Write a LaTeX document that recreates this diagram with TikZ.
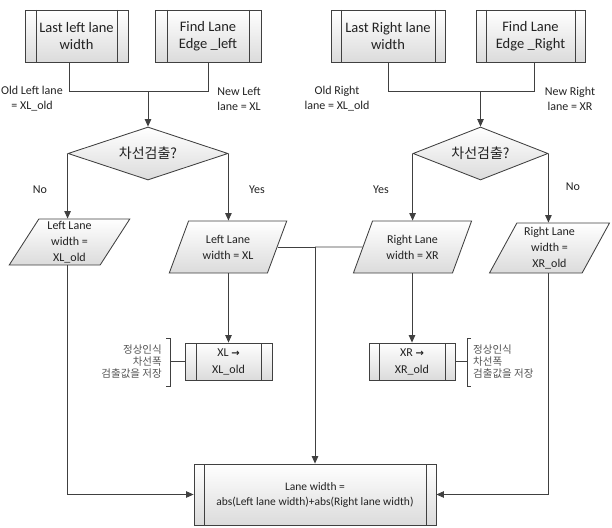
\documentclass[tikz,border=0pt]{standalone}
\usepackage{fontspec}
\setmainfont{Carlito}
\newfontfamily\kr{Noto Sans CJK KR}
\newfontfamily\dv{DejaVu Sans}
\usetikzlibrary{shapes.geometric,arrows.meta}
\definecolor{linec}{HTML}{404040}
\definecolor{txtc}{HTML}{222222}
\definecolor{annc}{HTML}{555555}
\tikzset{
  ln/.style={draw=linec, line width=0.85pt},
  arr/.style={ln, -{Triangle[length=7.5pt,width=6.5pt]}},
  procbox/.style={draw=linec, line width=0.85pt, rectangle, top color=white, bottom color=black!14,
    inner sep=0pt, align=center, text=txtc,
    path picture={
      \draw[linec, line width=0.85pt] ([xshift=#1]path picture bounding box.north west) -- ([xshift=#1]path picture bounding box.south west);
      \draw[linec, line width=0.85pt] ([xshift=-#1]path picture bounding box.north east) -- ([xshift=-#1]path picture bounding box.south east);}},
  para/.style={draw=linec, line width=0.85pt, trapezium, trapezium left angle=63, trapezium right angle=117,
    trapezium stretches=true, top color=white, bottom color=black!14, inner sep=0pt, align=center, text=txtc,
    font=\fontsize{12}{16}\selectfont},
  dec/.style={draw=linec, line width=0.85pt, diamond, aspect=3, inner sep=0pt, top color=white, bottom color=black!14,
    text=txtc, font=\kr\fontsize{14}{16}\selectfont},
  lbl/.style={align=center, text=txtc, inner sep=0pt, font=\fontsize{12}{15}\selectfont},
  ann/.style={inner sep=0pt, text=annc, font=\kr\fontsize{10.5}{12}\selectfont},
  topf/.style={font=\fontsize{14.5}{17.5}\selectfont}
}
\begin{document}
\begin{tikzpicture}[x=1pt,y=-1pt]
\useasboundingbox (0,0) rectangle (612,527);
% top boxes
\node[procbox=11pt, topf, minimum width=103pt, minimum height=52pt] (b1) at (76.5,36) {Last left lane\\width};
\node[procbox=12pt, topf, minimum width=106pt, minimum height=52pt] (b2) at (208,36) {Find Lane\\Edge \_left};
\node[procbox=10pt, topf, minimum width=114pt, minimum height=52pt] (b3) at (388,36) {Last Right lane\\width};
\node[procbox=10pt, topf, minimum width=109pt, minimum height=52pt] (b4) at (530.5,36) {Find Lane\\Edge \_Right};
% diamonds
\node[dec, minimum width=160pt, minimum height=53pt] (d1) at (148,153.5) {차선검출?};
\node[dec, minimum width=135pt, minimum height=53pt] (d2) at (480.5,153.5) {차선검출?};
% joins
\coordinate (j1) at (148,91);
\coordinate (j2) at (480.5,91);
\draw[ln] ([xshift=-7pt]b1.south) |- (j1);
\draw[ln] (b2.south) |- (j1);
\draw[arr] (j1) -- (d1.north);
\draw[ln] (b3.south) |- (j2);
\draw[ln] ([xshift=3.5pt]b4.south) |- (j2);
\draw[arr] (j2) -- (d2.north);
% labels
\node[lbl] at (32,99) {Old Left lane\\= XL\_old};
\node[lbl] at (239,99) {New Left\\lane = XL};
\node[lbl] at (337,99) {Old Right\\lane = XL\_old};
\node[lbl] at (570,99) {New Right\\lane = XR};
\node[lbl] at (40,190) {No};
\node[lbl] at (257,190) {Yes};
\node[lbl] at (381,190) {Yes};
\node[lbl] at (573,187) {No};
% parallelograms
\node[para, minimum width=121pt, minimum height=46pt] (p1) at (69.5,242) {Left Lane\\width =\\XL\_old};
\node[para, minimum width=118pt, minimum height=52pt] (p2) at (228,247) {Left Lane\\width = XL};
\node[para, minimum width=119pt, minimum height=52pt] (p3) at (412.5,247) {Right Lane\\width = XR};
\node[para, minimum width=121pt, minimum height=50pt] (p4) at (549.5,248) {Right Lane\\width =\\XR\_old};
\draw[arr] (d1.west) -- (d1.west |- p1.north);
\draw[arr] (d1.east) -- (d1.east |- p2.north);
\draw[arr] (d2.west) -- (d2.west |- p3.north);
\draw[arr] (d2.east) -- (d2.east |- p4.north);
% store boxes
\node[procbox=11pt, minimum width=87pt, minimum height=37pt, font=\fontsize{12}{17}\selectfont] (x1) at (228.5,361.5) {XL {\dv\bfseries\fontsize{10}{12}\selectfont →}\\XL\_old};
\node[procbox=10pt, minimum width=86pt, minimum height=37pt, font=\fontsize{12}{17}\selectfont] (x2) at (412,361.5) {XR {\dv\bfseries\fontsize{10}{12}\selectfont →}\\XR\_old};
\draw[arr] (x1.north |- p2.south) -- (x1.north);
\draw[arr] (x2.north |- p3.south) -- (x2.north);
% bottom box
\node[procbox=10pt, minimum width=242pt, minimum height=61pt, font=\fontsize{11.5}{15}\selectfont] (bot) at (315,494.5) {Lane width =\\abs(Left lane width)+abs(Right lane width)};
\coordinate (j3) at (bot.north |- p2.east);
\draw[ln] (p2.east) -- (j3);
\draw[ln] (p3.west) -- (j3);
\draw[arr] (j3) -- (bot.north);
\draw[arr] (d1.west |- p1.south) |- (bot.west);
\draw[arr] (d2.east |- p4.south) |- (bot.east);
% annotations
\draw[ln] (166,338) -- (170,338) -- (170,386) -- (166,386);
\coordinate (brL) at (170,361.5);
\draw[ln] (brL) -- (x1.west);
\node[ann, align=right, anchor=east] at (162,362) {정상인식\\차선폭\\검출값을 저장};
\draw[ln] (471,338) -- (467,338) -- (467,386) -- (471,386);
\coordinate (brR) at (467,361.5);
\draw[ln] (x2.east) -- (brR);
\node[ann, align=left, anchor=west] at (473,362) {정상인식\\차선폭\\검출값을 저장};
\end{tikzpicture}
\end{document}
